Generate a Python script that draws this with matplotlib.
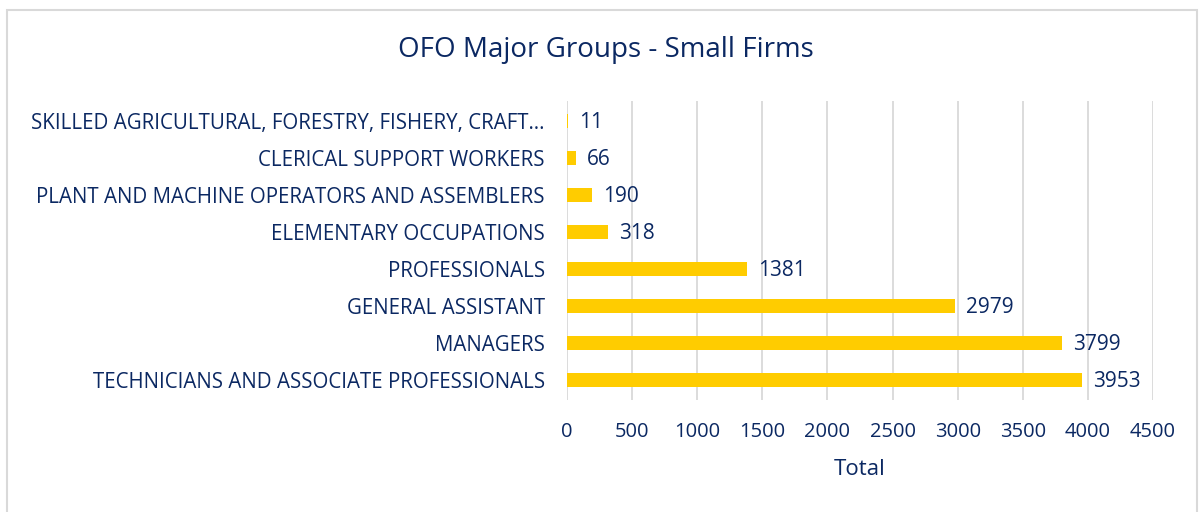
import matplotlib.pyplot as plt
from matplotlib.patches import Rectangle

# Data (bottom to top as drawn)
groups = ["TECHNICIANS AND ASSOCIATE PROFESSIONALS", "MANAGERS", "GENERAL ASSISTANT",
          "PROFESSIONALS", "ELEMENTARY OCCUPATIONS",
          "PLANT AND MACHINE OPERATORS AND ASSEMBLERS", "CLERICAL SUPPORT WORKERS",
          "SKILLED AGRICULTURAL, FORESTRY, FISHERY, CRAFT\u2026"]
totals = [3953, 3799, 2979, 1381, 318, 190, 66, 11]
ticks = [0, 500, 1000, 1500, 2000, 2500, 3000, 3500, 4000, 4500]

navy = "#0b2862"
bar_col = "#ffcc00"
plt.rcParams['font.family'] = ['Open Sans', 'DejaVu Sans']

fig = plt.figure(figsize=(11.99, 5.12), dpi=100)
ax = fig.add_axes([567 / 1199, 1 - 400 / 512, 586 / 1199, 299 / 512])

y = range(len(groups))
ax.barh(y, totals, height=0.38, color=bar_col, zorder=3)
for yi, v in zip(y, totals):
    ax.text(v + 85, yi - 0.04, str(v), va="center", ha="left", color=navy, fontsize=15)

ax.set_xlim(0, 4500)
ax.set_ylim(-0.54, 7.54)
ax.set_xticks(ticks)
ax.set_xticklabels([str(t) for t in ticks], fontsize=14.5, color=navy)
ax.set_yticks(list(y))
ax.set_yticklabels(groups, fontsize=14.8, color=navy)
ax.tick_params(axis="both", length=0)
ax.tick_params(axis="x", pad=16)
ax.tick_params(axis="y", pad=16)
ax.grid(axis="x", color="#d9d9d9", linewidth=1.3, zorder=0)
for s in ax.spines.values():
    s.set_visible(False)
ax.set_xlabel("Total", fontsize=16, color=navy, labelpad=12)

fig.text(606 / 1199, 1 - 50 / 512, "OFO Major Groups - Small Firms", ha="center",
         va="center", fontsize=20, color=navy)

# chart border
fig.patches.append(Rectangle((7 / 1199, -0.1), 1190 / 1199, 1 - 10 / 512 + 0.1,
                             transform=fig.transFigure, fill=False,
                             edgecolor="#d9d9d9", linewidth=1.5))

fig.savefig("out.png", dpi=100)
